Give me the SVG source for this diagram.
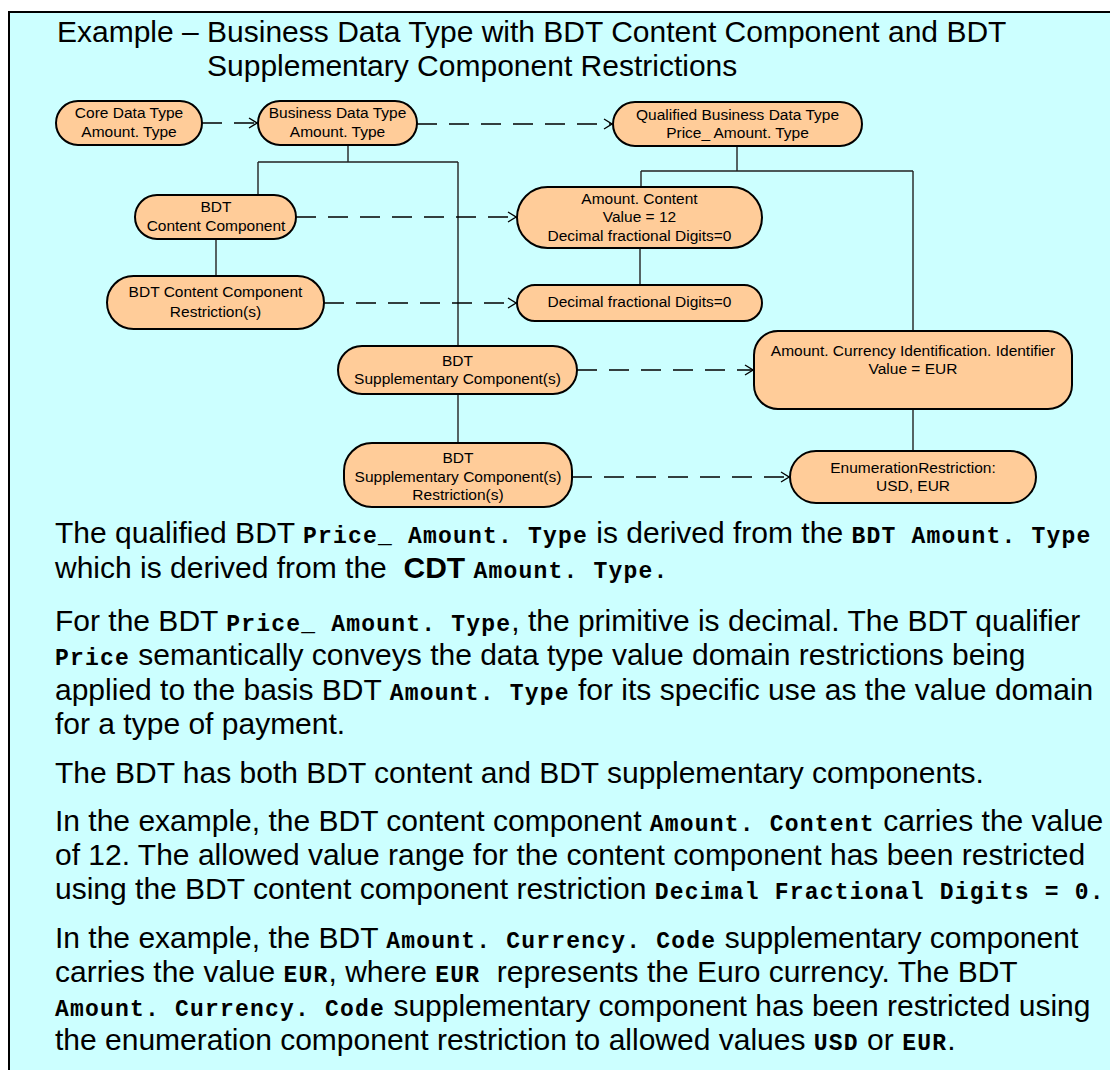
<svg xmlns="http://www.w3.org/2000/svg" width="1110" height="1070" viewBox="0 0 1110 1070">
  <style>
    .frame { fill: #CCFFFF; stroke: #000; stroke-width: 2; }
    .node rect { fill: #FFCC99; stroke: #000; stroke-width: 2; }
    .node text { font-family: "Liberation Sans", Arial, sans-serif; font-size: 15.5px; fill: #000; text-anchor: middle; }
    .tree { fill: none; stroke: #222; stroke-width: 1.4; }
    .dash { fill: none; stroke: #000; stroke-width: 1.4; stroke-dasharray: 20 12; marker-end: url(#open); }
    .title { font-family: "Liberation Sans", Arial, sans-serif; font-size: 30px; fill: #000; }
    .body { font-family: "Liberation Sans", Arial, sans-serif; font-size: 30px; fill: #000; white-space: pre; }
    .mono { font-family: "Liberation Mono", "Courier New", monospace; font-weight: bold; font-size: 23px; letter-spacing: 1.2px; }
    .bold { font-weight: bold; }
  </style>
  <defs>
    <marker id="open" viewBox="0 0 10 12" refX="9" refY="6" markerWidth="10" markerHeight="12" markerUnits="userSpaceOnUse" orient="auto">
      <path d="M1,1 L9,6 L1,11" fill="none" stroke="#000" stroke-width="1.3"/>
    </marker>
  </defs>

  <!-- slide panel -->
  <rect class="frame" x="9" y="12" width="1120" height="1080"/>

  <!-- heading -->
  <text class="title" x="57" y="42">Example – Business Data Type with BDT Content Component and BDT</text>
  <text class="title" x="207" y="76">Supplementary Component Restrictions</text>

  <!-- connectors -->
  <g id="connectors">
    <path class="tree" d="M348,145 V162 M258,162 H458 M258,162 V195 M458,162 V346"/>
    <path class="tree" d="M216,239 V276"/>
    <path class="tree" d="M458,394 V443"/>
    <path class="tree" d="M737,146 V171 M641,171 H913 M641,171 V187 M913,171 V331"/>
    <path class="tree" d="M640,248 V285"/>
    <path class="tree" d="M913,409 V451"/>
    <path class="dash" d="M202,123 H257"/>
    <path class="dash" d="M417,124 H612"/>
    <path class="dash" d="M296,217 H516"/>
    <path class="dash" d="M324,303 H516"/>
    <path class="dash" d="M577,370 H753"/>
    <path class="dash" d="M572,477 H789"/>
  </g>

  <!-- nodes -->
  <g id="cdt-amount" class="node">
    <rect x="56" y="101" width="146" height="44" rx="22"/>
    <text x="129" y="118">Core Data Type</text>
    <text x="129" y="137">Amount. Type</text>
  </g>
  <g id="bdt-amount" class="node">
    <rect x="258" y="101" width="159" height="44" rx="22"/>
    <text x="337.5" y="118">Business Data Type</text>
    <text x="337.5" y="137">Amount. Type</text>
  </g>
  <g id="qbdt-price-amount" class="node">
    <rect x="613" y="102" width="249" height="44" rx="22"/>
    <text x="737.5" y="120">Qualified Business Data Type</text>
    <text x="737.5" y="138">Price_ Amount. Type</text>
  </g>
  <g id="bdt-content" class="node">
    <rect x="135" y="195" width="161" height="44" rx="22"/>
    <text x="216" y="212">BDT</text>
    <text x="216" y="231">Content Component</text>
  </g>
  <g id="bdt-content-restriction" class="node">
    <rect x="107" y="276" width="217" height="53" rx="26.5"/>
    <text x="215.5" y="297">BDT Content Component</text>
    <text x="215.5" y="317">Restriction(s)</text>
  </g>
  <g id="amount-content" class="node">
    <rect x="517" y="187" width="245" height="61" rx="30.5"/>
    <text x="639.5" y="204">Amount. Content</text>
    <text x="639.5" y="222">Value = 12</text>
    <text x="639.5" y="241">Decimal fractional Digits=0</text>
  </g>
  <g id="decimal-digits" class="node">
    <rect x="517" y="285" width="245" height="36" rx="18"/>
    <text x="639.5" y="307">Decimal fractional Digits=0</text>
  </g>
  <g id="bdt-supplementary" class="node">
    <rect x="338" y="346" width="239" height="48" rx="24"/>
    <text x="457.5" y="366">BDT</text>
    <text x="457.5" y="384">Supplementary Component(s)</text>
  </g>
  <g id="bdt-supplementary-restriction" class="node">
    <rect x="344" y="443" width="228" height="64" rx="28"/>
    <text x="458" y="463">BDT</text>
    <text x="458" y="482">Supplementary Component(s)</text>
    <text x="458" y="500">Restriction(s)</text>
  </g>
  <g id="amount-currency" class="node">
    <rect x="754" y="331" width="318" height="78" rx="24"/>
    <text x="913" y="356">Amount. Currency Identification. Identifier</text>
    <text x="913" y="374">Value = EUR</text>
  </g>
  <g id="enumeration-restriction" class="node">
    <rect x="790" y="451" width="246" height="52" rx="26"/>
    <text x="913" y="473">EnumerationRestriction:</text>
    <text x="913" y="491">USD, EUR</text>
  </g>

  <!-- explanatory text -->
  <text class="body" x="55" y="543">The qualified BDT <tspan class="mono">Price_ Amount. Type</tspan> is derived from the <tspan class="mono">BDT Amount. Type</tspan></text>
  <text class="body" x="55" y="578">which is derived from the  <tspan class="bold">CDT</tspan> <tspan class="mono">Amount. Type.</tspan></text>

  <text class="body" x="55" y="631">For the BDT <tspan class="mono">Price_ Amount. Type</tspan>, the primitive is decimal. The BDT qualifier</text>
  <text class="body" x="55" y="665"><tspan class="mono">Price</tspan> semantically conveys the data type value domain restrictions being</text>
  <text class="body" x="55" y="700">applied to the basis BDT <tspan class="mono">Amount. Type</tspan> for its specific use as the value domain</text>
  <text class="body" x="55" y="734">for a type of payment.</text>

  <text class="body" x="55" y="783">The BDT has both BDT content and BDT supplementary components.</text>

  <text class="body" x="55" y="831">In the example, the BDT content component <tspan class="mono">Amount. Content</tspan> carries the value</text>
  <text class="body" x="55" y="865">of 12. The allowed value range for the content component has been restricted</text>
  <text class="body" x="55" y="899">using the BDT content component restriction <tspan class="mono">Decimal Fractional Digits = 0.</tspan></text>

  <text class="body" x="55" y="948">In the example, the BDT <tspan class="mono">Amount. Currency. Code</tspan> supplementary component</text>
  <text class="body" x="55" y="982">carries the value <tspan class="mono">EUR</tspan>, where <tspan class="mono">EUR</tspan>  represents the Euro currency. The BDT</text>
  <text class="body" x="55" y="1016"><tspan class="mono">Amount. Currency. Code</tspan> supplementary component has been restricted using</text>
  <text class="body" x="55" y="1050">the enumeration component restriction to allowed values <tspan class="mono">USD</tspan> or <tspan class="mono">EUR</tspan>.</text>
</svg>
